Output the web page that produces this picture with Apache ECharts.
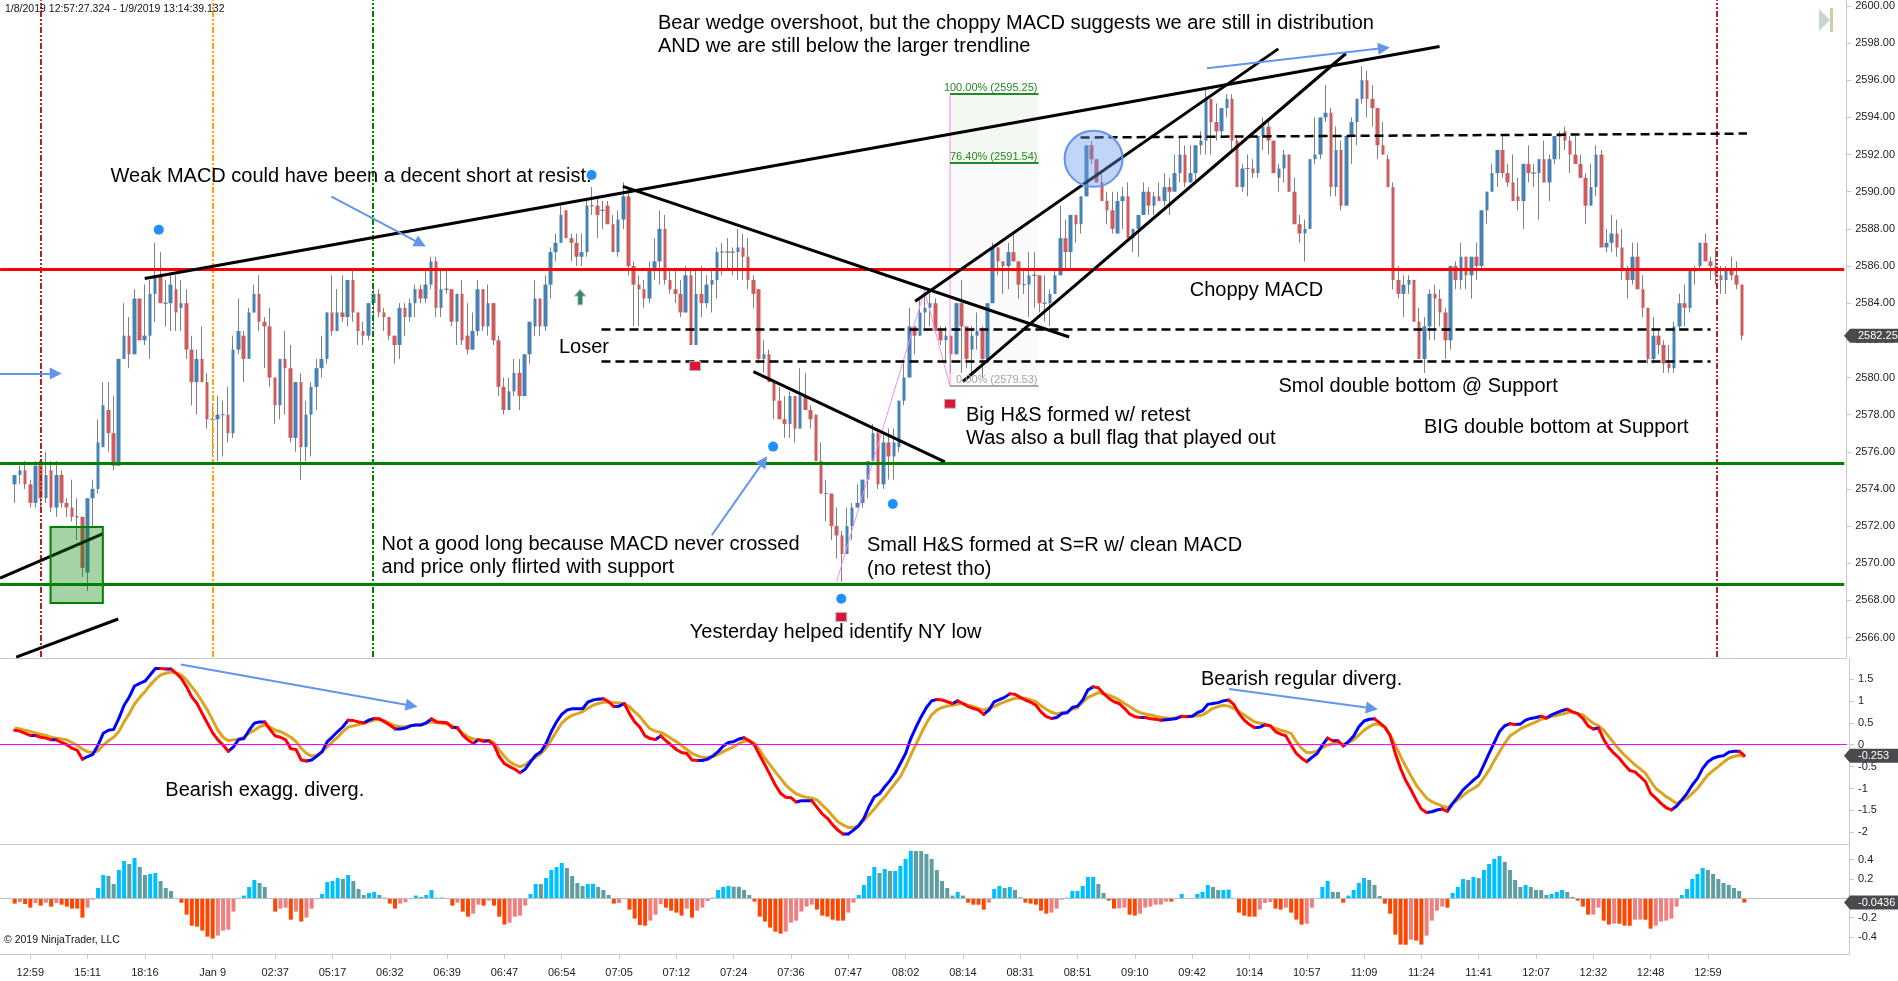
<!DOCTYPE html>
<html><head><meta charset="utf-8">
<style>html,body{margin:0;padding:0;background:#fff}#c{width:1898px;height:981px}</style>
<script src="https://cdn.jsdelivr.net/npm/echarts@6/dist/echarts.min.js"></script>
</head><body><div id="c"></div>
<script>
const opens=[2574.25,2574.75,2575,2574.25,2573.25,2575.5,2573.5,2575,2573,2574.75,
2573.25,2573,2572.5,2572.5,2569.5,2573.5,2574,2576.25,2578.25,2577,
2575.25,2581,2582.25,2581.25,2584.25,2582,2582.25,2584.5,2585.5,2584,
2584,2584.75,2583.75,2584,2581.5,2579.75,2581,2579.75,2577.75,2577.75,
2578,2578,2577,2581.5,2582.25,2581,2583.5,2584.5,2583,2582.75,
2580,2578.5,2581,2580.5,2576.75,2579.75,2576.25,2578,2579.5,2580.5,
2581,2583.5,2582.5,2583.5,2583.25,2585.25,2583.5,2582.5,2582.25,2584,
2584.5,2583.5,2583.25,2582.25,2581.75,2583.75,2583.25,2584,2584.75,2584.25,
2585,2586.25,2583.75,2584.75,2584.75,2583,2584.5,2582.25,2581.5,2582.5,
2584.75,2582.75,2584,2582,2579.5,2578.25,2579.25,2580.25,2579,2581.25,
2582.75,2584.25,2582.75,2585,2586.75,2587.25,2589,2587.5,2587.25,2586.5,
2586.75,2589.25,2589.25,2589,2589.25,2588.25,2586.75,2588.5,2589.75,2586,
2585,2584.75,2584.25,2585.75,2586.25,2588,2585.25,2584.75,2584.5,2583.5,
2585.5,2581.75,2584.5,2584,2585,2585.25,2586.75,2586.75,2586.75,2586.75,
2587,2586.5,2585.25,2584.75,2581,2581.25,2579.75,2578.75,2577.75,2577.5,
2579,2577.25,2579,2578.25,2578,2575.5,2573.75,2573.75,2572,2571.5,
2570.5,2572,2573,2573.25,2574.5,2575.5,2577,2574.25,2576.5,2575.75,
2576.25,2578.75,2580,2582.75,2582.25,2583.5,2583.75,2584,2582.5,2582,
2582.25,2581.25,2584,2582.75,2581.5,2582.25,2582.5,2581,2584,2587,
2586.25,2586,2586.75,2586.25,2585,2585,2585.5,2585.5,2584,2584,
2584.5,2585.5,2587.5,2586.75,2588.75,2588.25,2589.75,2592.5,2591.75,2590.5,
2589.5,2589,2587.75,2589.5,2589.75,2587.5,2588,2588.75,2590,2589.25,
2589.75,2589.5,2590.25,2590,2591,2592,2590.5,2591,2592.5,2592.75,
2595,2593.75,2593.25,2594.5,2595,2592.75,2590.25,2591.25,2591.25,2591,
2593,2593.5,2592.75,2590.75,2591.25,2592,2590,2588.25,2587.75,2588,
2591.75,2592,2594,2594.25,2590.25,2592.25,2589.25,2593,2593.75,2595,
2596,2595,2594.5,2592.5,2591.75,2590.25,2585.25,2584.5,2585,2585.25,
2583,2581,2582.75,2584.5,2584.25,2583.5,2582,2586,2585.25,2586.5,
2585.5,2586.5,2586,2589,2590,2591,2592.25,2591,2590.5,2589.75,
2589.5,2591.5,2591,2591,2591.75,2590.5,2591.75,2593,2593.25,2592.75,
2592,2591.5,2590.75,2589.25,2590.25,2592,2587,2587.25,2587.75,2587,
2585.75,2585.25,2586.5,2584.75,2583.75,2581,2582.25,2581.75,2580.75,2580.5,
2582.75,2584,2583.75,2585.75,2586,2587.25,2586.25,2586,2585.5,2585.25,
2585.75,2585.5,2585];
const closes=[2574.75,2575,2574.25,2573.25,2575.25,2573.5,2574.75,2573,2574.75,2573.25,
2573,2572.5,2572.5,2569.75,2573.5,2574,2576.5,2578.5,2577,2575.25,
2581,2582.25,2581.25,2584.25,2582,2582.25,2584.5,2585.5,2584,2584,
2585,2583.5,2584,2581.5,2579.75,2581,2579.75,2577.75,2577.75,2578,
2578,2577,2581.5,2582.5,2581,2583.5,2584.5,2583,2582.75,2580,
2578.5,2581,2580.5,2576.75,2579.75,2576.25,2578,2579.5,2580.5,2581,
2583.5,2582.5,2583.5,2583.25,2585.25,2583.5,2582.5,2582.25,2584,2584.5,
2583.5,2583.25,2582.25,2581.75,2583.75,2583.25,2584,2584.75,2584.25,2585,
2586.25,2583.75,2584.75,2584.75,2583,2584.5,2582,2581.5,2582.5,2584.75,
2582.75,2584,2582,2579.5,2578.25,2579.25,2580.25,2579,2581.25,2583,
2584.25,2582.75,2585,2586.75,2587.25,2588.75,2587.5,2587.25,2586.5,2586.75,
2589.25,2589.25,2588.75,2589,2588.25,2586.75,2588.5,2589.75,2586,2585,
2584.75,2584.25,2585.75,2586.25,2588,2585.25,2584.75,2584.5,2583.5,2585.5,
2581.75,2584.5,2584,2585,2585.25,2586.75,2586.75,2586.75,2586.75,2587,
2586.5,2585.25,2584.5,2581,2581.25,2579.75,2578.75,2577.75,2577.5,2579,
2577.25,2579,2578.25,2577.75,2575.5,2573.75,2573.75,2572,2571.5,2570.5,
2572,2573,2573.25,2574.5,2575.5,2577,2574.25,2576.5,2575.75,2576.5,
2578.75,2580,2582.75,2582.25,2583.5,2583.75,2584,2582.5,2582,2582.25,
2581.25,2584,2582.75,2581,2582.25,2582.5,2581,2584,2587,2586.25,
2586,2586.75,2586.25,2585,2585,2585.5,2585.5,2584,2584,2584.5,
2585.5,2587.5,2586.75,2588.75,2588.25,2589.75,2592.5,2591.75,2590.5,2589.5,
2589,2588,2589.5,2589.75,2587.5,2588,2588.75,2590,2589.25,2589.75,
2589.5,2590.25,2590,2591,2592,2590.5,2591,2592.5,2592.75,2595,
2593.75,2593.25,2594.5,2595,2592.75,2590.25,2591.25,2591.25,2591,2593,
2593.5,2592.75,2591,2591.25,2592,2590,2588.25,2587.75,2588,2591.75,
2592,2594,2594.25,2590.25,2592.25,2589.25,2593,2593.75,2595,2596,
2595,2594.5,2592.5,2592,2590.25,2585.25,2584.5,2585,2585.25,2583,
2581,2582.75,2584.5,2584.25,2583.5,2582,2586,2585.25,2586.5,2585.5,
2586.5,2586,2589,2590,2591,2592.25,2591,2590.5,2589.5,2589.5,
2591.5,2591,2591,2591.75,2590.5,2591.75,2593,2593,2592.75,2592,
2591.5,2590.75,2589.25,2590.25,2592,2587,2587.25,2587.75,2587,2585.75,
2585.25,2586.5,2584.75,2583.75,2581,2582.25,2581.75,2580.75,2580.5,2582.75,
2584,2583.75,2585.75,2585.75,2587.25,2586.25,2586,2585.5,2585.25,2585.75,
2585.5,2585,2582.25];
const highs=[2574.75,2575.25,2575.5,2574.5,2575.5,2575.5,2576,2575.5,2575.5,2575,
2573.5,2574.5,2573.5,2572.5,2573.5,2574.5,2577.75,2579.75,2579.75,2579,
2581,2584,2583.25,2584.75,2584.25,2585,2585.25,2587.25,2586.75,2585.25,
2585.5,2585.5,2585.25,2584.75,2582.25,2581.5,2582.75,2580.25,2578.5,2579,
2578.75,2579.5,2582.25,2584.25,2582.5,2583.75,2585,2585.5,2583.25,2583.75,
2580,2581,2582.5,2581.75,2579.75,2580.25,2578.75,2579.75,2581,2582.25,
2583.5,2585.5,2584.75,2585.5,2585.25,2585.75,2583.5,2583,2584,2585,
2584.75,2583.75,2583.25,2582.25,2584,2584,2584.25,2585,2585,2585.75,
2586.5,2586.5,2585.75,2585.75,2584.75,2584.5,2585.25,2584,2583.5,2585.25,
2584.75,2585,2584,2582.25,2580,2580,2581,2581,2581.25,2583,
2585.25,2584.25,2585.5,2587,2587.75,2589.25,2589,2587.75,2587.75,2587.75,
2589.5,2590.25,2589.75,2589.5,2589.5,2588.75,2589,2590.5,2590.25,2586.25,
2585.5,2585.25,2586.25,2587.5,2589,2588.75,2585.75,2585.75,2585.25,2586,
2585.75,2585.75,2586,2585.5,2585.75,2587,2587.25,2587.5,2587,2588,
2587.75,2587.5,2585.5,2584.75,2582,2581.5,2579.75,2579.5,2579,2579.25,
2579,2580.5,2580.25,2578.5,2578,2576.5,2574.5,2573.75,2573,2571.75,
2573,2573.25,2574.25,2574.5,2575.5,2577.5,2577.25,2577,2577.25,2577.25,
2578.75,2580.75,2583.75,2582.75,2584.25,2584.75,2584.5,2584.25,2582.75,2582.75,
2582.25,2584,2585.25,2582.75,2582.75,2583.5,2582.75,2584,2587.25,2587,
2586.25,2587.25,2587.75,2586.25,2585.75,2586.75,2586.75,2585.5,2585.5,2584.75,
2585.75,2589.25,2588.5,2588.75,2588.75,2589.75,2592.5,2592.75,2591.75,2591,
2590,2590,2590,2590.25,2590.5,2588,2588.75,2590.5,2590.25,2590,
2590.5,2591,2590.75,2592,2593,2592.5,2592.5,2592.5,2593.25,2595.5,
2595,2594.75,2594.5,2595.25,2595.25,2593,2591.5,2592,2591.75,2593,
2594,2593.75,2592.75,2591.5,2592.25,2592,2590.75,2588.75,2588.5,2591.75,
2594,2594,2595.75,2594.5,2593.5,2592.75,2593,2594,2595,2596.75,
2596.5,2595.75,2594.5,2593.75,2592,2590.5,2586,2585.5,2585.5,2585.25,
2583.75,2583.25,2584.75,2585,2584.75,2583.75,2586,2586.25,2587.25,2586.5,
2586.5,2587.25,2589,2590,2591.5,2592.25,2593,2591.5,2592,2590.75,
2591.5,2592.5,2591.5,2591.75,2592.75,2592,2593,2593.25,2593.5,2593,
2593,2592,2591,2591.5,2592.5,2592.25,2588,2588.75,2588.5,2588,
2586,2587.25,2587.25,2585.5,2583.75,2583.25,2582.5,2582,2581.75,2583,
2584.5,2585,2585.75,2586,2587.25,2587.75,2586.5,2587,2586,2586,
2586.5,2586.25,2585];
const lows=[2573.25,2574.25,2574,2573,2573,2572.75,2573.25,2572.75,2572.5,2573,
2572.5,2572.25,2571.25,2569.25,2568.5,2572,2573.75,2576.25,2576,2575,
2575.25,2581,2580.5,2581.25,2582,2581.75,2581,2583,2584,2582.75,
2582.5,2582.5,2582.5,2581,2578.5,2578,2579.75,2577.25,2575.75,2575.5,
2575.75,2576.5,2576.75,2581.25,2579.75,2581,2583.5,2582.5,2580.5,2579.5,
2577.5,2577.75,2578,2576.5,2576,2574.5,2575.5,2575.75,2578.25,2580,
2580.75,2582.25,2582.5,2583,2582.75,2583,2581.75,2581.75,2582,2582.75,
2583.25,2582.5,2582,2580.75,2581,2582.25,2583,2583.25,2584,2584,
2584.75,2583.25,2583.25,2584.5,2582.75,2581.75,2581.75,2581.25,2581.5,2582.25,
2582.5,2582.25,2581.75,2579,2578,2578.25,2579,2578.25,2579,2580.75,
2582.25,2582.25,2582.5,2584.25,2586.25,2587.25,2587.5,2586.25,2586,2586,
2586.5,2588.75,2587.5,2588,2588.25,2586.75,2586.5,2588,2585.5,2582.75,
2582.75,2583.75,2584,2585.25,2585,2585,2584.5,2584,2583.25,2583.5,
2581.75,2581.75,2583.25,2583.75,2583.5,2584.25,2585.5,2585.75,2585.5,2585.25,
2585.25,2584.75,2583.75,2580.75,2580.25,2579.75,2577.75,2577.75,2576.75,2576.75,
2576.5,2577.25,2578.25,2577.25,2575.5,2573.75,2572.25,2571.25,2570.25,2569,
2570.5,2571.25,2573,2573,2573.5,2575.5,2574,2574,2574.5,2574.5,
2576,2578.5,2580,2581.25,2582.25,2582.5,2582.75,2582.5,2581.75,2580.75,
2580.25,2581.25,2580.25,2580.5,2580.25,2581.5,2580,2581,2584,2585.5,
2584.5,2584.75,2586.25,2584.25,2584.5,2583.25,2583.75,2583.5,2583,2582.75,
2584.5,2585.5,2585.75,2585.75,2587.25,2587.75,2589.75,2591.5,2590.5,2589.5,
2588.25,2587.75,2587.75,2588,2587.5,2586.75,2586.5,2588.75,2588.75,2588.75,
2589.5,2589.25,2588.75,2590,2590.5,2590.25,2590.5,2590.5,2592,2592,
2592,2592.75,2593,2594,2592.25,2590.25,2590,2589.75,2590.75,2590.75,
2592.25,2592,2591,2590,2590.5,2590,2588.25,2587.25,2586.25,2588,
2591.5,2591.75,2593.75,2589.75,2589.75,2589,2589.25,2591.5,2592.5,2594.75,
2594,2593.5,2591.75,2592,2590.25,2584.75,2584.25,2583.25,2584.5,2583,
2581,2580.25,2582,2582,2582.75,2581,2581.5,2584.75,2584.75,2584.75,
2584.25,2585.25,2585.75,2588.25,2590,2590.25,2590.75,2590.25,2589.5,2589,
2588,2590.5,2590.25,2588.5,2590.5,2589.5,2591.5,2591.75,2592.25,2591,
2591.5,2590.75,2588.25,2589.25,2589.75,2587,2586.75,2586.75,2586.5,2585.25,
2584.25,2585,2584.75,2583.25,2580.75,2580.75,2581.25,2580.25,2580.25,2580.25,
2582.5,2582.75,2583.5,2585,2585.75,2586.25,2585.25,2585,2584.5,2584.5,
2585.25,2584.75,2582];
const macdValues=[.33,.31,.26,.21,.21,.17,.15,.11,.11,.05,0,-.08,-.13,-.33,-.27,-.22,-.01,.26,.33,.35,
.60,.90,1.09,1.34,1.40,1.45,1.59,1.74,1.74,1.73,1.73,1.63,1.51,1.32,1.09,.94,.71,.49,.27,.11,
-.01,-.15,-.05,.12,.14,.33,.49,.52,.52,.35,.20,.17,.11,-.09,-.11,-.35,-.37,-.35,-.26,-.16,
.07,.18,.30,.41,.56,.55,.52,.50,.56,.60,.59,.52,.45,.36,.36,.38,.43,.45,.45,.50,
.59,.52,.51,.50,.39,.39,.22,.11,.03,.11,.08,.09,-.01,-.27,-.43,-.50,-.56,-.64,-.56,-.39,
-.24,-.16,.03,.30,.52,.69,.79,.82,.82,.82,.97,1.02,1.04,1.05,.98,.87,.88,.94,.71,.52,
.40,.20,.14,.12,.20,.09,-.01,-.11,-.18,-.20,-.35,-.36,-.36,-.33,-.26,-.16,-.03,.05,.07,.13,
.16,.09,-.01,-.24,-.46,-.69,-.92,-1.11,-1.20,-1.21,-1.31,-1.28,-1.28,-1.28,-1.43,-1.58,-1.68,-1.83,-1.95,-2.04,
-2.04,-1.95,-1.85,-1.68,-1.41,-1.19,-1.12,-.96,-.82,-.65,-.43,-.20,.14,.40,.64,.85,1.00,1.03,1.02,.98,
.94,1.00,.94,.87,.83,.79,.69,.79,.98,1.03,1.08,1.16,1.15,1.08,1.02,.97,.90,.75,.64,.60,
.62,.71,.73,.85,.88,1.02,1.25,1.32,1.30,1.17,1.06,.98,.94,.83,.70,.64,.62,.62,.59,.58,
.56,.57,.58,.60,.65,.64,.65,.73,.78,.92,.94,.96,1.00,1.02,.92,.71,.56,.46,.39,.40,
.45,.43,.30,.24,.20,-.01,-.20,-.31,-.39,-.29,-.20,-.01,.15,.09,.09,-.03,.07,.20,.41,.54,
.58,.59,.50,.40,.21,-.20,-.54,-.82,-1.03,-1.26,-1.47,-1.55,-1.53,-1.49,-1.47,-1.52,-1.34,-1.19,-1.03,-.92,
-.81,-.71,-.46,-.20,.05,.30,.43,.48,.46,.47,.56,.60,.62,.65,.61,.68,.73,.78,.81,.75,
.71,.60,.43,.36,.38,.12,-.07,-.20,-.31,-.46,-.59,-.62,-.73,-.84,-1.11,-1.22,-1.34,-1.44,-1.49,-1.40,
-1.26,-1.11,-.92,-.77,-.54,-.39,-.31,-.27,-.25,-.17,-.15,-.15,-.25];
const signalValues=[.38,.36,.33,.30,.27,.24,.21,.17,.15,.13,.11,.05,-.02,-.10,-.16,-.18,-.14,-.01,.09,.17,
.30,.52,.71,.93,1.08,1.21,1.36,1.49,1.59,1.63,1.66,1.64,1.59,1.47,1.32,1.17,.98,.79,.56,.33,
.17,.09,.11,.12,.17,.26,.33,.41,.45,.40,.33,.30,.24,.17,.07,-.08,-.20,-.26,-.24,-.16,
-.05,.07,.17,.30,.40,.43,.46,.49,.52,.56,.58,.55,.49,.43,.41,.41,.43,.45,.45,.49,
.52,.50,.49,.47,.43,.35,.26,.18,.13,.12,.11,.09,.05,-.12,-.27,-.39,-.46,-.50,-.46,-.36,
-.29,-.20,-.08,.11,.30,.49,.60,.67,.71,.75,.83,.90,.94,.97,.97,.96,.95,.93,.87,.75,
.64,.49,.36,.31,.28,.22,.14,.07,-.02,-.11,-.20,-.25,-.29,-.29,-.27,-.22,-.16,-.10,-.05,.03,
.08,.09,.03,-.12,-.31,-.46,-.62,-.77,-.92,-1.03,-1.12,-1.17,-1.20,-1.22,-1.26,-1.38,-1.49,-1.63,-1.76,-1.83,
-1.89,-1.89,-1.85,-1.73,-1.60,-1.47,-1.32,-1.19,-1.03,-.88,-.73,-.50,-.24,.01,.26,.49,.68,.79,.85,.88,
.90,.93,.94,.90,.87,.83,.79,.83,.87,.93,.98,1.02,1.06,1.06,1.06,1.02,.98,.89,.81,.74,
.70,.73,.75,.81,.85,.97,1.08,1.13,1.19,1.16,1.13,1.08,1.02,.94,.87,.79,.73,.70,.68,.65,
.62,.61,.60,.62,.64,.65,.65,.66,.68,.75,.83,.87,.90,.88,.83,.75,.68,.60,.52,.49,
.47,.43,.37,.33,.30,.26,.07,-.08,-.18,-.18,-.14,-.07,-.01,.02,.03,.01,.05,.11,.22,.33,
.41,.47,.46,.40,.22,-.01,-.26,-.50,-.71,-.92,-1.07,-1.22,-1.30,-1.35,-1.40,-1.44,-1.35,-1.26,-1.16,-1.07,
-1.00,-.92,-.75,-.58,-.36,-.16,.03,.20,.28,.36,.42,.47,.52,.58,.61,.64,.67,.70,.73,.75,
.71,.68,.58,.49,.43,.33,.18,.03,-.11,-.24,-.35,-.46,-.55,-.65,-.83,-1.00,-1.09,-1.19,-1.26,-1.34,
-1.28,-1.22,-1.11,-1.00,-.84,-.69,-.59,-.50,-.40,-.31,-.27,-.24,-.27];
const histValues=[-.055,-.038,-.059,-.097,-.048,-.076,-.045,-.086,-.048,-.066,-.086,-.107,-.107,-.2,-.097,-.014,.107,.241,.231,.148,
.293,.386,.355,.417,.324,.241,.252,.262,.179,.107,.076,0,-.045,-.169,-.283,-.293,-.334,-.397,-.417,-.386,
-.334,-.324,-.138,.003,.028,.117,.19,.159,.117,-.007,-.138,-.107,-.097,-.221,-.138,-.241,-.2,-.107,-.01,.045,
.169,.179,.21,.2,.241,.179,.097,.034,.055,.066,.034,.007,-.055,-.107,-.055,-.041,-.01,.028,.014,.034,
.086,.007,.007,0,-.076,-.045,-.138,-.19,-.159,-.066,-.076,-.024,-.076,-.19,-.272,-.252,-.19,-.179,-.076,.045,
.148,.147,.21,.293,.324,.366,.314,.231,.159,.128,.148,.15,.117,.086,.034,-.055,-.05,.003,-.117,-.21,
-.276,-.283,-.231,-.169,-.059,-.097,-.128,-.148,-.179,-.107,-.2,-.128,-.097,-.028,.007,.086,.117,.128,.121,.12,
.086,.034,-.034,-.19,-.241,-.303,-.345,-.366,-.345,-.252,-.231,-.138,-.086,-.066,-.117,-.179,-.19,-.221,-.231,-.231,
-.148,-.045,.034,.138,.231,.324,.262,.303,.283,.283,.334,.407,.49,.489,.488,.459,.407,.293,.179,.107,
.028,.066,.028,-.045,-.066,-.066,-.117,-.045,.097,.128,.107,.117,.086,.01,-.045,-.055,-.066,-.128,-.159,-.148,
-.107,-.014,.007,.076,.077,.128,.221,.222,.148,.055,-.024,-.107,-.105,-.097,-.169,-.179,-.159,-.097,-.086,-.066,
-.065,-.034,-.034,0,.045,.003,0,.045,.066,.138,.117,.086,.086,.09,0,-.148,-.179,-.19,-.19,-.117,
-.048,-.038,-.107,-.117,-.097,-.148,-.221,-.272,-.262,-.097,0,.117,.179,.066,.065,-.045,.028,.086,.159,.21,
.19,.138,.024,-.055,-.159,-.376,-.479,-.48,-.428,-.438,-.479,-.386,-.231,-.128,-.086,-.097,.055,.117,.2,.19,
.221,.21,.293,.355,.407,.438,.376,.293,.19,.117,.138,.117,.086,.085,.034,.045,.066,.086,.066,.014,
-.024,-.086,-.169,-.168,-.097,-.231,-.272,-.262,-.263,-.283,-.284,-.221,-.22,-.222,-.314,-.283,-.241,-.231,-.21,-.086,
.034,.097,.2,.252,.314,.293,.252,.2,.159,.138,.107,.076,-.044];
const tickBars=[3,14,25,38,50,61,72,83,94,105,116,127,138,149,160,171,182,193,204,215,226,237,248,259,270,281,292,303,314,325];
const tickLabels=['12:59','15:11','18:16','Jan 9','02:37','05:17','06:32','06:39','06:47','06:54','07:05','07:12','07:24','07:36','07:47','08:02','08:14','08:31','08:51','09:10','09:42','10:14','10:57','11:09','11:24','11:41','12:07','12:32','12:48','12:59'];
const priceTicks=[2566,2568,2570,2572,2574,2576,2578,2580,2582,2584,2586,2588,2590,2592,2594,2596,2598,2600];
const macdTicks=[-2,-1.5,-1,-.5,0,.5,1,1.5];
const histTicks=[-.4,-.2,.2,.4];
const lastPrice=2582.25,lastMacd=-0.253,lastHist=-0.0436;
const resistance=2585.82,supportHigh=2575.38,supportLow=2568.87,dashHigh=2582.6,dashLow=2580.87;
const fibTop=2595.25,fib764=2591.54,fibBottom=2579.53;

const FONT='"Liberation Sans",Arial,sans-serif';
const XMIN=-2.82,XMAX=352.08,XEND=351.7;
const n=opens.length,last=n-1;
const GRAY='#808080',UP='#4682B4',DOWN='#CD5C5C';

// Trendlines and guides, in [bar index, price]
const trendLines=[
 [[25,2585.33],[273.9,2597.82]],[[116.9,2590.29],[202.7,2582.18]],[[142,2580.31],[178.8,2575.46]],
 [[173.1,2584.1],[242.9,2597.69]],[[182.3,2579.79],[255.9,2597.44]],[[-2.8,2569.2],[16.9,2571.58]],[[.3,2564.95],[19.9,2567]]];
const dashedLines=[[[112.8,dashHigh],[326,dashHigh]],[[112.8,dashLow],[326,dashLow]],[[204.9,2592.92],[333,2593.13]]];
const sessionLines=[[5,'#B22222'],[38,'#FFA500'],[68.9,'#008000'],[327.1,'#B22222']];
const priceArrows=[[[-2.8,2580.22],[7.9,2580.22]],[[60.9,2589.73],[78,2587.2]],[[134,2571.51],[144,2575.5]],[[229.2,2596.64],[263.2,2597.73]]];
const macdArrows=[[[31.9,1.83],[76.2,.89]],[[233.1,1.27],[260.5,.83]]];
const pinkPath=[[158,2569.02],[174.9,2584.67],[179.8,fibBottom],[179.8,fibTop]];
const blueDots=[[27.7,2587.95],[110.9,2590.9],[145.8,2576.28],[168.8,2573.19],[158.9,2568.09]];
const redSquares=[[130.8,2580.61],[179.8,2578.59],[158.9,2567.11]];

const notes=[
 ['Weak MACD could have been a decent short at resist.',110.6,176],
 ['Bear wedge overshoot, but the choppy MACD suggests we are still in distribution',658,23.3],
 ['AND we are still below the larger trendline',658,46.5],
 ['Loser',559,347.8],
 ['Not a good long because MACD never crossed',381.6,544.8],
 ['and price only flirted with support',381.6,567.8],
 ['Small H&S formed at S=R w/ clean MACD',867,545.5],
 ['(no retest tho)',867,569],
 ['Yesterday helped identify NY low',689.8,632.3],
 ['Big H&S formed w/ retest',966,415.7],
 ['Was also a bull flag that played out',966,438.4],
 ['Choppy MACD',1189.8,290.3],
 ['Smol double bottom @ Support',1278.4,386.6],
 ['BIG double bottom at Support',1424,427.5],
 ['Bearish exagg. diverg.',165.3,790],
 ['Bearish regular diverg.',1201,679]
];

const seg=(pts,style,extra)=>[Object.assign({coord:pts[0],lineStyle:style},extra||{}),{coord:pts[1]}];
const black={color:'#000',width:3,type:'solid'};
const dash={color:'#000',width:2.5,type:[9,5]};
const arrowStyle={color:'#6495ED',width:2,type:'solid'};
const hline=(v,c,w)=>seg([[XMIN+.02,v],[XEND,v]],{color:c,width:w,type:'solid'});
const fibLabel=(t,c)=>({label:{show:true,formatter:t,position:'insideEndTop',distance:1,color:c,fontSize:11,fontFamily:FONT}});

const mainLines=[
 ...sessionLines.map(s=>seg([[s[0],2564.95],[s[0],2600.3]],{color:s[1],width:2,type:[6,2,2,2,2,2]})),
 hline(resistance,'#FF0000',3),hline(supportHigh,'#008000',3),hline(supportLow,'#008000',3),
 seg([[179.8,fibTop],[196.8,fibTop]],{color:'#228B22',width:2,type:'solid'},fibLabel('100.00% (2595.25)','#228B22')),
 seg([[179.8,fib764],[196.8,fib764]],{color:'#228B22',width:2,type:'solid'},fibLabel('76.40% (2591.54)','#228B22')),
 seg([[179.8,fibBottom],[196.8,fibBottom]],{color:'#A9A9A9',width:2,type:'solid'},fibLabel('0.00% (2579.53)','#A9A9A9')),
 ...dashedLines.map(p=>seg(p,dash)),
 ...trendLines.map(p=>seg(p,black))
];

const wickData=[],bodyData=[],lineUp=[],lineDown=[],histData=[];
for(let i=0;i<n;i++){
 const o=opens[i],c=closes[i];
 wickData.push([i,o,c,lows[i],highs[i]]);
 const col=c>o?UP:(c<o?DOWN:GRAY);
 bodyData.push({value:[i,o,c,Math.min(o,c),Math.max(o,c)],itemStyle:{color:col,color0:col,borderColor:col,borderColor0:col,borderWidth:c===o?1:0}});
 const h=histValues[i],p=i?histValues[i-1]:0;
 histData.push({value:[i,h],itemStyle:{color:h>=0?(h>=p?'#00BFFF':'#5F9EA0'):(h<=p?'#FF4500':'#F08080')}});
 if(i<last){
  const a=macdValues[i],b=macdValues[i+1],t=b>=a?lineUp:lineDown;
  t.push([i,a],[i+1,b],[i+1,null]);
 }
}
const base=(x,y)=>({xAxisIndex:x,yAxisIndex:y,animation:false,silent:true});
const host=(x,y,extra)=>Object.assign(base(x,y),{type:'line',data:[[0,null]],showSymbol:false,lineStyle:{width:0}},extra);
const mkLine=(data,sym)=>({silent:true,animation:false,symbol:sym||'none',symbolSize:12,label:{show:false},emphasis:{disabled:true},data});
const tag=(x,y,v,text)=>Object.assign(base(x,y),{type:'custom',z:20,clip:false,data:[[last,v]],renderItem(params,api){
 const py=api.coord([api.value(0),api.value(1)])[1];
 return {type:'group',children:[
  {type:'polygon',shape:{points:[[1844,py],[1850,py-7],[1898,py-7],[1898,py+7],[1850,py+7]]},style:{fill:'#4A4A4E'}},
  {type:'text',style:{x:1858,y:py,text,fill:'#fff',font:'11px '+FONT,textVerticalAlign:'middle'}}]};
}});
const xAxisBase=i=>({type:'value',gridIndex:i,min:XMIN,max:XMAX,position:'bottom',splitLine:{show:false},
 axisLine:{onZero:false,show:true,lineStyle:{color:'#C8C8C8',width:1}},axisTick:{show:false},axisLabel:{show:false}});
const yAxisBase=(i,min,max,ticks,fmt)=>({type:'value',gridIndex:i,min,max,position:'right',splitLine:{show:false},
 axisLine:{onZero:false,show:true,lineStyle:{color:'#C8C8C8',width:1}},
 axisTick:{show:true,length:5,lineStyle:{color:'#C8C8C8'},customValues:ticks},
 axisLabel:{show:true,margin:9,color:'#222',fontSize:11,fontFamily:FONT,customValues:ticks,formatter:fmt,showMinLabel:true,showMaxLabel:true,hideOverlap:false}});

const option={animation:false,backgroundColor:'#fff',
 grid:[{left:0,top:0,width:1849,height:658},{left:0,top:658,width:1849,height:186.3},{left:0,top:844.3,width:1849,height:109.7}],
 xAxis:[xAxisBase(0),xAxisBase(1),Object.assign(xAxisBase(2),{
  axisTick:{show:true,length:5,lineStyle:{color:'#C8C8C8'},customValues:tickBars},
  axisLabel:{show:true,margin:13,color:'#222',fontSize:11,fontFamily:FONT,customValues:tickBars,hideOverlap:false,formatter:v=>tickLabels[tickBars.indexOf(v)]||''}})],
 yAxis:[yAxisBase(0,2564.9,2600.32,priceTicks,v=>v.toFixed(2)),yAxisBase(1,-2.274,1.979,macdTicks,v=>String(v)),yAxisBase(2,-.5762,.5586,histTicks,v=>String(v))],
 series:[
  host(0,0,{name:'fibZones',z:1,markArea:{silent:true,animation:false,z:1,data:[
    [{coord:[179.8,fibTop],itemStyle:{color:'#F3F8F3'}},{coord:[196.8,fib764]}],
    [{coord:[179.8,fib764],itemStyle:{color:'#FAFAFA'}},{coord:[196.8,fibBottom]}]]}}),
  Object.assign(base(0,0),{name:'wicks',type:'candlestick',barWidth:1,z:2,data:wickData,itemStyle:{color:GRAY,color0:GRAY,borderColor:GRAY,borderColor0:GRAY,borderWidth:1}}),
  Object.assign(base(0,0),{name:'candles',type:'candlestick',barWidth:4,z:3,data:bodyData,itemStyle:{borderWidth:0}}),
  Object.assign(base(0,0),{name:'fibPath',type:'line',z:4,showSymbol:false,data:pinkPath,lineStyle:{color:'#F58CF5',width:1}}),
  host(0,0,{name:'guides',z:5,markLine:mkLine(mainLines)}),
  host(0,0,{name:'priceArrows',z:6,markLine:mkLine(priceArrows.map(p=>seg(p,arrowStyle)),['none','triangle'])}),
  host(0,0,{name:'entryBox',z:6,markArea:{silent:true,animation:false,z:7,data:[[{coord:[6.9,2571.95],itemStyle:{color:'rgba(0,128,0,0.35)',borderColor:'#008000',borderWidth:2}},{coord:[16.95,2567.86]}]]}}),
  Object.assign(base(0,0),{name:'circle',type:'scatter',z:8,clip:false,data:[[207.4,2591.77]],symbol:'circle',symbolSize:[58,56],itemStyle:{color:'rgba(100,149,237,0.4)',borderColor:'#6495ED',borderWidth:2,opacity:1}}),
  Object.assign(base(0,0),{name:'blueDots',type:'scatter',z:8,clip:false,data:blueDots,symbol:'circle',symbolSize:10,itemStyle:{color:'#1E90FF',opacity:1}}),
  Object.assign(base(0,0),{name:'redSquares',type:'scatter',z:8,clip:false,data:redSquares,symbol:'rect',symbolSize:[11,9],itemStyle:{color:'#DC143C',borderColor:'#BBB',borderWidth:1,opacity:1}}),
  Object.assign(base(0,0),{name:'longArrow',type:'scatter',z:8,clip:false,data:[[108.7,2584.33]],symbol:'path://M5 0L10 6L7 6L7 14L3 14L3 6L0 6Z',symbolSize:[11,15],itemStyle:{color:'#2E8B57',borderColor:'#AAB',borderWidth:1,opacity:1}}),
  tag(0,0,lastPrice,'2582.25'),
  host(1,1,{name:'macdZero',z:1,markLine:mkLine([seg([[XMIN+.02,0],[XEND,0]],{color:'#FF00FF',width:1,type:'solid'})])}),
  Object.assign(base(1,1),{name:'signal',type:'line',z:2,showSymbol:false,data:signalValues.map((v,i)=>[i,v]),lineStyle:{color:'#DAA520',width:3}}),
  Object.assign(base(1,1),{name:'macdUp',type:'line',z:3,showSymbol:false,data:lineUp,connectNulls:false,lineStyle:{color:'#0000FF',width:3,cap:'round'}}),
  Object.assign(base(1,1),{name:'macdDown',type:'line',z:3,showSymbol:false,data:lineDown,connectNulls:false,lineStyle:{color:'#FF0000',width:3,cap:'round'}}),
  host(1,1,{name:'macdArrows',z:6,markLine:mkLine(macdArrows.map(p=>seg(p,arrowStyle)),['none','triangle'])}),
  tag(1,1,lastMacd,'-0.253'),
  host(2,2,{name:'histZero',z:1,markLine:mkLine([seg([[XMIN+.02,0],[XMAX-.02,0]],{color:'#BEBEBE',width:1,type:'solid'})])}),
  Object.assign(base(2,2),{name:'hist',type:'bar',barWidth:4,z:3,data:histData}),
  tag(2,2,lastHist,'-0.0436')
 ],
 graphic:[
  ...notes.map(t=>({type:'text',z:100,silent:true,x:t[1],y:t[2],style:{text:t[0],fill:'#000',font:'20px '+FONT,textVerticalAlign:'middle'}})),
  {type:'text',z:100,silent:true,x:5,y:9.3,style:{text:'1/8/2019 12:57:27.324 - 1/9/2019 13:14:39.132',fill:'#111',font:'10.5px '+FONT,textVerticalAlign:'middle'}},
  {type:'text',z:100,silent:true,x:4,y:940,style:{text:'\u00A9 2019 NinjaTrader, LLC',fill:'#111',font:'10.5px '+FONT,textVerticalAlign:'middle'}},
  {type:'polygon',z:100,silent:true,shape:{points:[[1819,9],[1830,20],[1819,31]]},style:{fill:'#C6D3D3'}},
  {type:'rect',z:100,silent:true,shape:{x:1830,y:8,width:3,height:24},style:{fill:'#C9CFA8'}}
 ]};
echarts.init(document.getElementById('c'),null,{renderer:'canvas'}).setOption(option);
</script></body></html>
